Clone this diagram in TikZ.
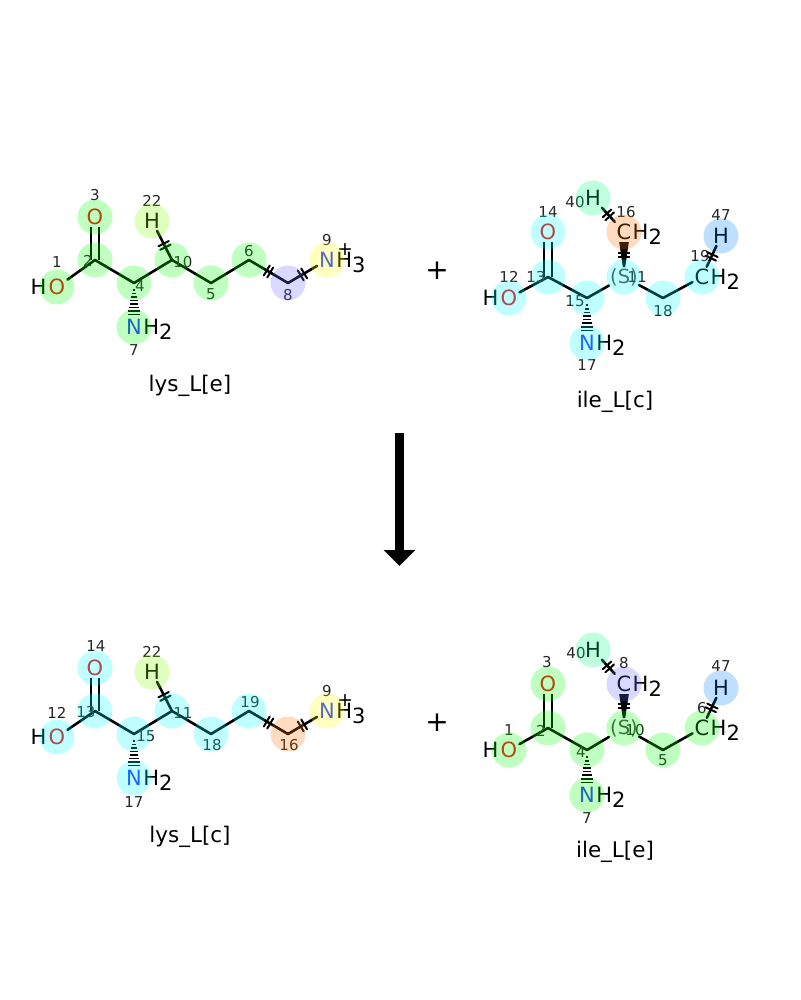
\documentclass[tikz,border=0pt]{standalone}
\usepackage{fontspec}
\setmainfont{DejaVu Sans}
\usepackage{xcolor}
\usepackage{tikz}
\usetikzlibrary{calc,arrows.meta,decorations.markings}

\definecolor{oxy}{rgb}{0.92,0.05,0.05}
\definecolor{nitro}{rgb}{0.13,0.22,1}
\definecolor{hlgreen}{rgb}{0,1,0}
\definecolor{hlcyan}{rgb}{0,1,1}
\definecolor{hlyellow}{rgb}{1,1,0}
\definecolor{hllime}{rgb}{0.5,1,0}
\definecolor{hlviolet}{rgb}{0.42,0.42,1}
\definecolor{hlorange}{rgb}{1,0.45,0}
\definecolor{hlmint}{rgb}{0,1,0.5}
\definecolor{hlblue}{rgb}{0,0.5,1}

\newcommand{\atomfont}{\fontsize{21}{21}\selectfont}
\newcommand{\numfont}{\fontsize{15}{15}\selectfont}
\newcommand{\stereofont}{\fontsize{19.5}{19.5}\selectfont}
\newcommand{\chargefont}{\fontsize{19}{19}\selectfont}
\newcommand{\namefont}{\fontsize{21.5}{22}\selectfont}
\newcommand{\plusfont}{\fontsize{28}{28}\selectfont}
\newcommand{\sub}[1]{\raisebox{-0.22em}{#1}}
\newcommand{\hashbond}[2]{%
  \foreach \pos in {0.16,0.24,...,0.75}
    \draw[hash] ($(#1)!\pos!(#2)!{\pos*9pt}!90:(#2)$) -- ($(#1)!\pos!(#2)!{\pos*9pt}!-90:(#2)$);%
}
\newcommand{\wedgebond}[2]{%
  \fill ($(#1.north)+(-1.2,0)$) -- ($(#1.north)+(1.2,0)$) -- ($(#2.south)+(4.8,0)$) -- ($(#2.south)+(-4.8,0)$) -- cycle;%
}

\tikzset{
  cut/.style={postaction={decorate},
    decoration={markings, mark=at position 0.5 with {\draw[line width=2pt] (-2,-5.8) -- (-2,5.8) (2,-5.8) -- (2,5.8);}}},
  hl/.style={fill=#1, fill opacity=.25}
}

\begin{document}
\begin{tikzpicture}[x=1pt,y=-1pt,
    bond/.style={line width=2.6pt, line join=round, line cap=round},
    dbl/.style={line width=2.6pt, double, double distance=5.4pt},
    hash/.style={line width=1.6pt},
    atom/.style={font=\atomfont, inner sep=2pt},
    tail/.style={font=\atomfont, inner sep=0pt, anchor=base west},
    num/.style={font=\numfont, text=black!85, inner sep=0pt},
    stereo/.style={font=\stereofont, text=black!70, inner sep=1pt},
    charge/.style={font=\chargefont, inner sep=0pt},
    molname/.style={font=\namefont},
    rxn/.style={line width=9pt, -{Triangle[width=31pt,length=16pt]}}]
    \fill[white] (0,0) rectangle (800,1000);
    \useasboundingbox (0,0) rectangle (800,1000);

    % lys_L[e]
    \node[atom, text=oxy] (le-o1) at (57,287) {O};
    \node[tail, anchor=base east] (le-h1) at (le-o1.base west) {H};
    \coordinate (le-c2) at (95,260);
    \node[atom, text=oxy] (le-o3) at (95,217) {O};
    \coordinate (le-c4) at (134,283);
    \node[atom, text=nitro] (le-n7) at (134,327) {N};
    \node[tail] (le-h7) at ($(le-n7.base east)+(-1,0)$) {H\sub{2}};
    \coordinate (le-c10) at (172,260);
    \node[atom] (le-h22) at (152,221) {H};
    \coordinate (le-c5) at (211,283);
    \coordinate (le-c6) at (249,260);
    \coordinate (le-c8) at (288,283);
    \node[atom, text=nitro] (le-n9) at (327,260) {N};
    \node[tail] (le-h9) at ($(le-n9.base east)+(-1,0)$) {H\sub{3}};
    \node[charge] (le-q9) at (345,250) {+};

    \draw[dbl] (le-c2) -- (le-o3);
    \draw[bond] (le-o1) -- (le-c2) -- (le-c4) -- (le-c10) -- (le-c5) -- (le-c6);
    \draw[bond, cut] (le-c10) -- (le-h22);
    \draw[bond, cut] (le-c6) -- (le-c8);
    \draw[bond, cut] (le-c8) -- (le-n9);
    \hashbond{le-c4}{le-n7}

    \node[num] (le-l1) at (57,262) {1};
    \node[num] (le-l2) at (88,261) {2};
    \node[num] (le-l3) at (95,195) {3};
    \node[num] (le-l4) at (140,286) {4};
    \node[num] (le-l7) at (134,350) {7};
    \node[num] (le-l22) at (152,201) {22};
    \node[num] (le-l10) at (183,262) {10};
    \node[num] (le-l5) at (211,294) {5};
    \node[num] (le-l6) at (249,251) {6};
    \node[num] (le-l8) at (288,295) {8};
    \node[num] (le-l9) at (327,240) {9};
    \foreach \atm/\col in {o1/hlgreen,c2/hlgreen,o3/hlgreen,c4/hlgreen,n7/hlgreen,c10/hlgreen,
        h22/hllime,c5/hlgreen,c6/hlgreen,c8/hlviolet,n9/hlyellow}
      \fill[hl=\col] (le-\atm) circle (17.5pt);
    \node[molname] (le-name) at (190,386) {lys\_L[e]};

    % ile_L[c]
    \node[atom, text=oxy] (ic-o12) at (509,298) {O};
    \node[tail, anchor=base east] (ic-h12) at (ic-o12.base west) {H};
    \coordinate (ic-c13) at (548,277);
    \node[atom, text=oxy] (ic-o14) at (548,232) {O};
    \coordinate (ic-c15) at (587,298);
    \node[atom, text=nitro] (ic-n17) at (587,343) {N};
    \node[tail] (ic-h17) at ($(ic-n17.base east)+(-1,0)$) {H\sub{2}};
    \node[stereo] (ic-s11) at (624,277) {(S)};
    \node[atom] (ic-c16) at (624,232) {C};
    \node[tail] (ic-h16) at ($(ic-c16.base east)+(-1,0)$) {H\sub{2}};
    \node[atom] (ic-h40) at (593,198) {H};
    \coordinate (ic-c18) at (663,298);
    \node[atom] (ic-c19) at (702,277) {C};
    \node[tail] (ic-h19) at ($(ic-c19.base east)+(-1,0)$) {H\sub{2}};
    \node[atom] (ic-h47) at (721,236) {H};

    \draw[dbl] (ic-c13) -- (ic-o14);
    \draw[bond] (ic-o12) -- (ic-c13) -- (ic-c15) -- (ic-s11);
    \draw[bond] (ic-s11) -- (ic-c18) -- (ic-c19);
    \wedgebond{ic-s11}{ic-c16}
    \path[cut] (ic-s11) -- (ic-c16);
    \draw[bond, cut] (ic-h40) -- (ic-c16);
    \draw[bond, cut] (ic-c19) -- (ic-h47);
    \hashbond{ic-c15}{ic-n17}

    \node[num] (ic-l12) at (509,277) {12};
    \node[num] (ic-l13) at (536,277) {13};
    \node[num] (ic-l14) at (548,212) {14};
    \node[num] (ic-l15) at (575,301) {15};
    \node[num] (ic-l17) at (587,365) {17};
    \node[num] (ic-l40) at (575,202) {40};
    \node[num] (ic-l16) at (626,212) {16};
    \node[num] (ic-l11) at (637,277) {11};
    \node[num] (ic-l18) at (663,311) {18};
    \node[num] (ic-l19) at (700,256) {19};
    \node[num] (ic-l47) at (721,215) {47};
    \foreach \atm/\col in {o12/hlcyan,c13/hlcyan,o14/hlcyan,c15/hlcyan,n17/hlcyan,s11/hlcyan,
        c16/hlorange,h40/hlmint,c18/hlcyan,c19/hlcyan,h47/hlblue}
      \fill[hl=\col] (ic-\atm) circle (17.5pt);
    \node[molname] (ic-name) at (615,402) {ile\_L[c]};

    \node[font=\plusfont] (plus-top) at (437,271) {+};

    % reaction arrow
    \coordinate (arrow-top) at (399.5,433);
    \coordinate (arrow-end) at (399.5,566);
    \draw[rxn] (arrow-top) -- (arrow-end);

    % lys_L[c]
    \node[atom, text=oxy] (lc-o12) at (57,737) {O};
    \node[tail, anchor=base east] (lc-h12) at (lc-o12.base west) {H};
    \coordinate (lc-c13) at (95,711);
    \node[atom, text=oxy] (lc-o14) at (95,668) {O};
    \coordinate (lc-c15) at (134,734);
    \node[atom, text=nitro] (lc-n17) at (134,778) {N};
    \node[tail] (lc-h17) at ($(lc-n17.base east)+(-1,0)$) {H\sub{2}};
    \coordinate (lc-c11) at (172,711);
    \node[atom] (lc-h22) at (152,672) {H};
    \coordinate (lc-c18) at (211,734);
    \coordinate (lc-c19) at (249,711);
    \coordinate (lc-c16) at (288,734);
    \node[atom, text=nitro] (lc-n9) at (327,711) {N};
    \node[tail] (lc-h9) at ($(lc-n9.base east)+(-1,0)$) {H\sub{3}};
    \node[charge] (lc-q9) at (345,701) {+};

    \draw[dbl] (lc-c13) -- (lc-o14);
    \draw[bond] (lc-o12) -- (lc-c13) -- (lc-c15) -- (lc-c11) -- (lc-c18) -- (lc-c19);
    \draw[bond, cut] (lc-c11) -- (lc-h22);
    \draw[bond, cut] (lc-c19) -- (lc-c16);
    \draw[bond, cut] (lc-c16) -- (lc-n9);
    \hashbond{lc-c15}{lc-n17}

    \node[num] (lc-l12) at (57,713) {12};
    \node[num] (lc-l13) at (86,712) {13};
    \node[num] (lc-l14) at (96,646) {14};
    \node[num] (lc-l15) at (146,736) {15};
    \node[num] (lc-l17) at (134,802) {17};
    \node[num] (lc-l22) at (152,652) {22};
    \node[num] (lc-l11) at (183,713) {11};
    \node[num] (lc-l18) at (212,745) {18};
    \node[num] (lc-l19) at (250,702) {19};
    \node[num] (lc-l16) at (289,745) {16};
    \node[num] (lc-l9) at (327,691) {9};
    \foreach \atm/\col in {o12/hlcyan,c13/hlcyan,o14/hlcyan,c15/hlcyan,n17/hlcyan,c11/hlcyan,
        h22/hllime,c18/hlcyan,c19/hlcyan,c16/hlorange,n9/hlyellow}
      \fill[hl=\col] (lc-\atm) circle (17.5pt);
    \node[molname] (lc-name) at (190,837) {lys\_L[c]};

    % ile_L[e]
    \node[atom, text=oxy] (ie-o1) at (509,750) {O};
    \node[tail, anchor=base east] (ie-h1) at (ie-o1.base west) {H};
    \coordinate (ie-c2) at (548,728);
    \node[atom, text=oxy] (ie-o3) at (548,684) {O};
    \coordinate (ie-c4) at (587,750);
    \node[atom, text=nitro] (ie-n7) at (587,795) {N};
    \node[tail] (ie-h7) at ($(ie-n7.base east)+(-1,0)$) {H\sub{2}};
    \node[stereo] (ie-s10) at (624,728) {(S)};
    \node[atom] (ie-c8) at (624,684) {C};
    \node[tail] (ie-h8) at ($(ie-c8.base east)+(-1,0)$) {H\sub{2}};
    \node[atom] (ie-h40) at (593,650) {H};
    \coordinate (ie-c5) at (663,750);
    \node[atom] (ie-c6) at (702,728) {C};
    \node[tail] (ie-h6) at ($(ie-c6.base east)+(-1,0)$) {H\sub{2}};
    \node[atom] (ie-h47) at (721,688) {H};

    \draw[dbl] (ie-c2) -- (ie-o3);
    \draw[bond] (ie-o1) -- (ie-c2) -- (ie-c4) -- (ie-s10);
    \draw[bond] (ie-s10) -- (ie-c5) -- (ie-c6);
    \wedgebond{ie-s10}{ie-c8}
    \path[cut] (ie-s10) -- (ie-c8);
    \draw[bond, cut] (ie-h40) -- (ie-c8);
    \draw[bond, cut] (ie-c6) -- (ie-h47);
    \hashbond{ie-c4}{ie-n7}

    \node[num] (ie-l1) at (509,730) {1};
    \node[num] (ie-l2) at (541,731) {2};
    \node[num] (ie-l3) at (547,662) {3};
    \node[num] (ie-l4) at (581,752) {4};
    \node[num] (ie-l7) at (587,818) {7};
    \node[num] (ie-l40) at (576,653) {40};
    \node[num] (ie-l8) at (624,663) {8};
    \node[num] (ie-l10) at (635,730) {10};
    \node[num] (ie-l5) at (663,760) {5};
    \node[num] (ie-l6) at (702,708) {6};
    \node[num] (ie-l47) at (721,666) {47};
    \foreach \atm/\col in {o1/hlgreen,c2/hlgreen,o3/hlgreen,c4/hlgreen,n7/hlgreen,s10/hlgreen,
        c8/hlviolet,h40/hlmint,c5/hlgreen,c6/hlgreen,h47/hlblue}
      \fill[hl=\col] (ie-\atm) circle (17.5pt);
    \node[molname] (ie-name) at (615,852) {ile\_L[e]};

    \node[font=\plusfont] (plus-bottom) at (437,723) {+};
\end{tikzpicture}
\end{document}
